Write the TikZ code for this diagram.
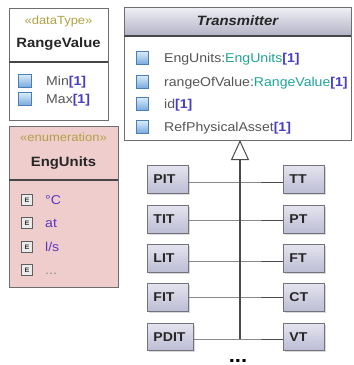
\documentclass[tikz,border=0pt]{standalone}
\usepackage{fontspec}
\setmainfont{Liberation Sans}[FakeStretch=1.1]
\usetikzlibrary{arrows.meta,shadows}
\definecolor{bordc}{RGB}{110,110,110}
\definecolor{divc}{RGB}{70,70,70}
\definecolor{stereoc}{RGB}{178,160,70}
\definecolor{multc}{RGB}{70,60,200}
\definecolor{typec}{RGB}{30,165,155}
\definecolor{attrc}{RGB}{85,85,85}
\definecolor{litc}{RGB}{90,55,190}
\definecolor{enumfill}{RGB}{240,205,205}
\definecolor{hdrtop}{RGB}{240,240,246}
\definecolor{hdrbot}{RGB}{178,178,198}
\definecolor{leaftop}{RGB}{228,228,240}
\definecolor{leafbot}{RGB}{188,188,212}
\definecolor{leafbd}{RGB}{115,115,125}
\definecolor{iconbd}{RGB}{75,125,185}
\definecolor{iconin}{RGB}{215,235,250}
\definecolor{iconout}{RGB}{120,170,220}
\definecolor{eiconbd}{RGB}{95,95,95}
\definecolor{connc}{RGB}{75,75,75}
\newcommand{\mlt}[1]{\textcolor{multc}{\bfseries[#1]}}
\tikzset{
 box/.style={draw=bordc, line width=0.9pt, inner sep=0pt, outer sep=0pt, anchor=north west},
 divider/.style={draw=divc, line width=1.3pt},
 stereo/.style={text=stereoc, font=\fontsize{11.8}{12}\selectfont, inner sep=0pt, anchor=base},
 cname/.style={font=\bfseries\fontsize{13.5}{14}\selectfont, text=black!85, inner sep=0pt, anchor=base},
 attrtxt/.style={anchor=base west, inner sep=0pt, font=\fontsize{12.8}{13}\selectfont, text=attrc},
 littxt/.style={anchor=base west, inner sep=0pt, font=\fontsize{12.8}{13}\selectfont, text=litc},
 aicon/.style={draw=iconbd, line width=1pt, top color=iconin, bottom color=iconout, minimum size=12.5pt, inner sep=0pt},
 eicon/.style={draw=eiconbd, line width=1.1pt, fill=white!92!black, minimum size=11pt, inner sep=0pt, font=\bfseries\fontsize{6.5}{6.5}\selectfont, text=black!80},
 leaf/.style={draw=leafbd, line width=0.9pt, top color=leaftop, bottom color=leafbot, anchor=north west, minimum height=28pt, text width=29pt, inner xsep=6pt, inner ysep=0pt, align=left, font=\bfseries\fontsize{12.8}{14}\selectfont, text=black!85, drop shadow={shadow xshift=1.5pt, shadow yshift=-1.5pt, opacity=0.3}},
 conn/.style={draw=connc, line width=1pt},
}
\begin{document}
\begin{tikzpicture}[x=1pt,y=-1pt]
\useasboundingbox (0,0) rectangle (354,365);
% RangeValue
\node[box, fill=white, minimum width=99pt, minimum height=112pt] (rv) at (9,8) {};
\node[box, minimum width=99pt, minimum height=54pt] (rvh) at (9,8) {};
\draw[divider] (rvh.south west) -- (rvh.south east);
\node[stereo] (rvs) at (58.5,24) {«dataType»};
\node[cname] (rvn) at (58.5,47.7) {RangeValue};
\node[aicon] (rvi1) at (25,81) {};
\node[aicon] (rvi2) at (25,99) {};
\node[attrtxt] (rva1) at (46,85.3) {Min\mlt{1}};
\node[attrtxt] (rva2) at (46,103.3) {Max\mlt{1}};
% EngUnits
\node[box, fill=enumfill, minimum width=109pt, minimum height=161pt] (eu) at (9,126) {};
\node[box, minimum width=109pt, minimum height=54pt] (euh) at (9,126) {};
\draw[divider] (euh.south west) -- (euh.south east);
\node[stereo] (eus) at (63.5,141.5) {«enumeration»};
\node[cname] (eun) at (63.5,166.7) {EngUnits};
\node[eicon] (eui1) at (27,200) {E};
\node[eicon] (eui2) at (27,223) {E};
\node[eicon] (eui3) at (27,247) {E};
\node[eicon] (eui4) at (27,270) {E};
\node[littxt] (eul1) at (45,204.5) {°C};
\node[littxt] (eul2) at (45,227.5) {at};
\node[littxt] (eul3) at (45,251.5) {l/s};
\node[littxt, text=black!45] (eul4) at (45,274.5) {...};
% Transmitter
\node[box, fill=white, minimum width=227pt, minimum height=133pt] (tx) at (124,7) {};
\node[box, top color=hdrtop, bottom color=hdrbot, minimum width=227pt, minimum height=29pt] (txh) at (124,7) {};
\draw[divider] (txh.south west) -- (txh.south east);
\node[cname, font=\bfseries\itshape\fontsize{13.5}{14}\selectfont] (txn) at (237.5,25.5) {Transmitter};
\node[aicon] (txi1) at (142.5,58) {};
\node[aicon] (txi2) at (142.5,82) {};
\node[aicon] (txi3) at (142.5,104) {};
\node[aicon] (txi4) at (142.5,127) {};
\node[attrtxt] (txa1) at (164,62.5) {EngUnits:\textcolor{typec}{EngUnits}\mlt{1}};
\node[attrtxt] (txa2) at (164,86.5) {rangeOfValue:\textcolor{typec}{RangeValue}\mlt{1}};
\node[attrtxt] (txa3) at (164,108.5) {id\mlt{1}};
\node[attrtxt] (txa4) at (164,131.5) {RefPhysicalAsset\mlt{1}};
% leaves
\node[leaf] (pit) at (147,165) {PIT};
\node[leaf] (tit) at (147,205) {TIT};
\node[leaf] (lit) at (147,244) {LIT};
\node[leaf] (fit) at (147,283) {FIT};
\node[leaf, text width=34pt, minimum height=27pt] (pdit) at (147,323) {PDIT};
\node[leaf] (tt) at (283,165) {TT};
\node[leaf] (pt) at (283,205) {PT};
\node[leaf] (ft) at (283,244) {FT};
\node[leaf] (ct) at (283,283) {CT};
\node[leaf, minimum height=27pt] (vt) at (283,323) {VT};
% connectors
\coordinate (j1) at (240,182);
\coordinate (j2) at (240,220);
\coordinate (j3) at (240,261);
\coordinate (j4) at (240,297);
\coordinate (j5) at (240,339);
\draw[conn] (pit.east |- j1) -- (j1) -- (tt.west |- j1);
\draw[conn] (tit.east |- j2) -- (j2) -- (pt.west |- j2);
\draw[conn] (lit.east |- j3) -- (j3) -- (ft.west |- j3);
\draw[conn] (fit.east |- j4) -- (j4) -- (ct.west |- j4);
\draw[conn] (pdit.east |- j5) -- (j5) -- (vt.west |- j5);
\draw[conn, line width=1.2pt, -{Triangle[open, length=20pt, width=18pt, fill=white, line width=1pt]}] (j5) -- (j5 |- tx.south);
\node[font=\bfseries\fontsize{20}{20}\selectfont, anchor=base, inner sep=0pt] (dots) at (238,362) {...};
\end{tikzpicture}
\end{document}
